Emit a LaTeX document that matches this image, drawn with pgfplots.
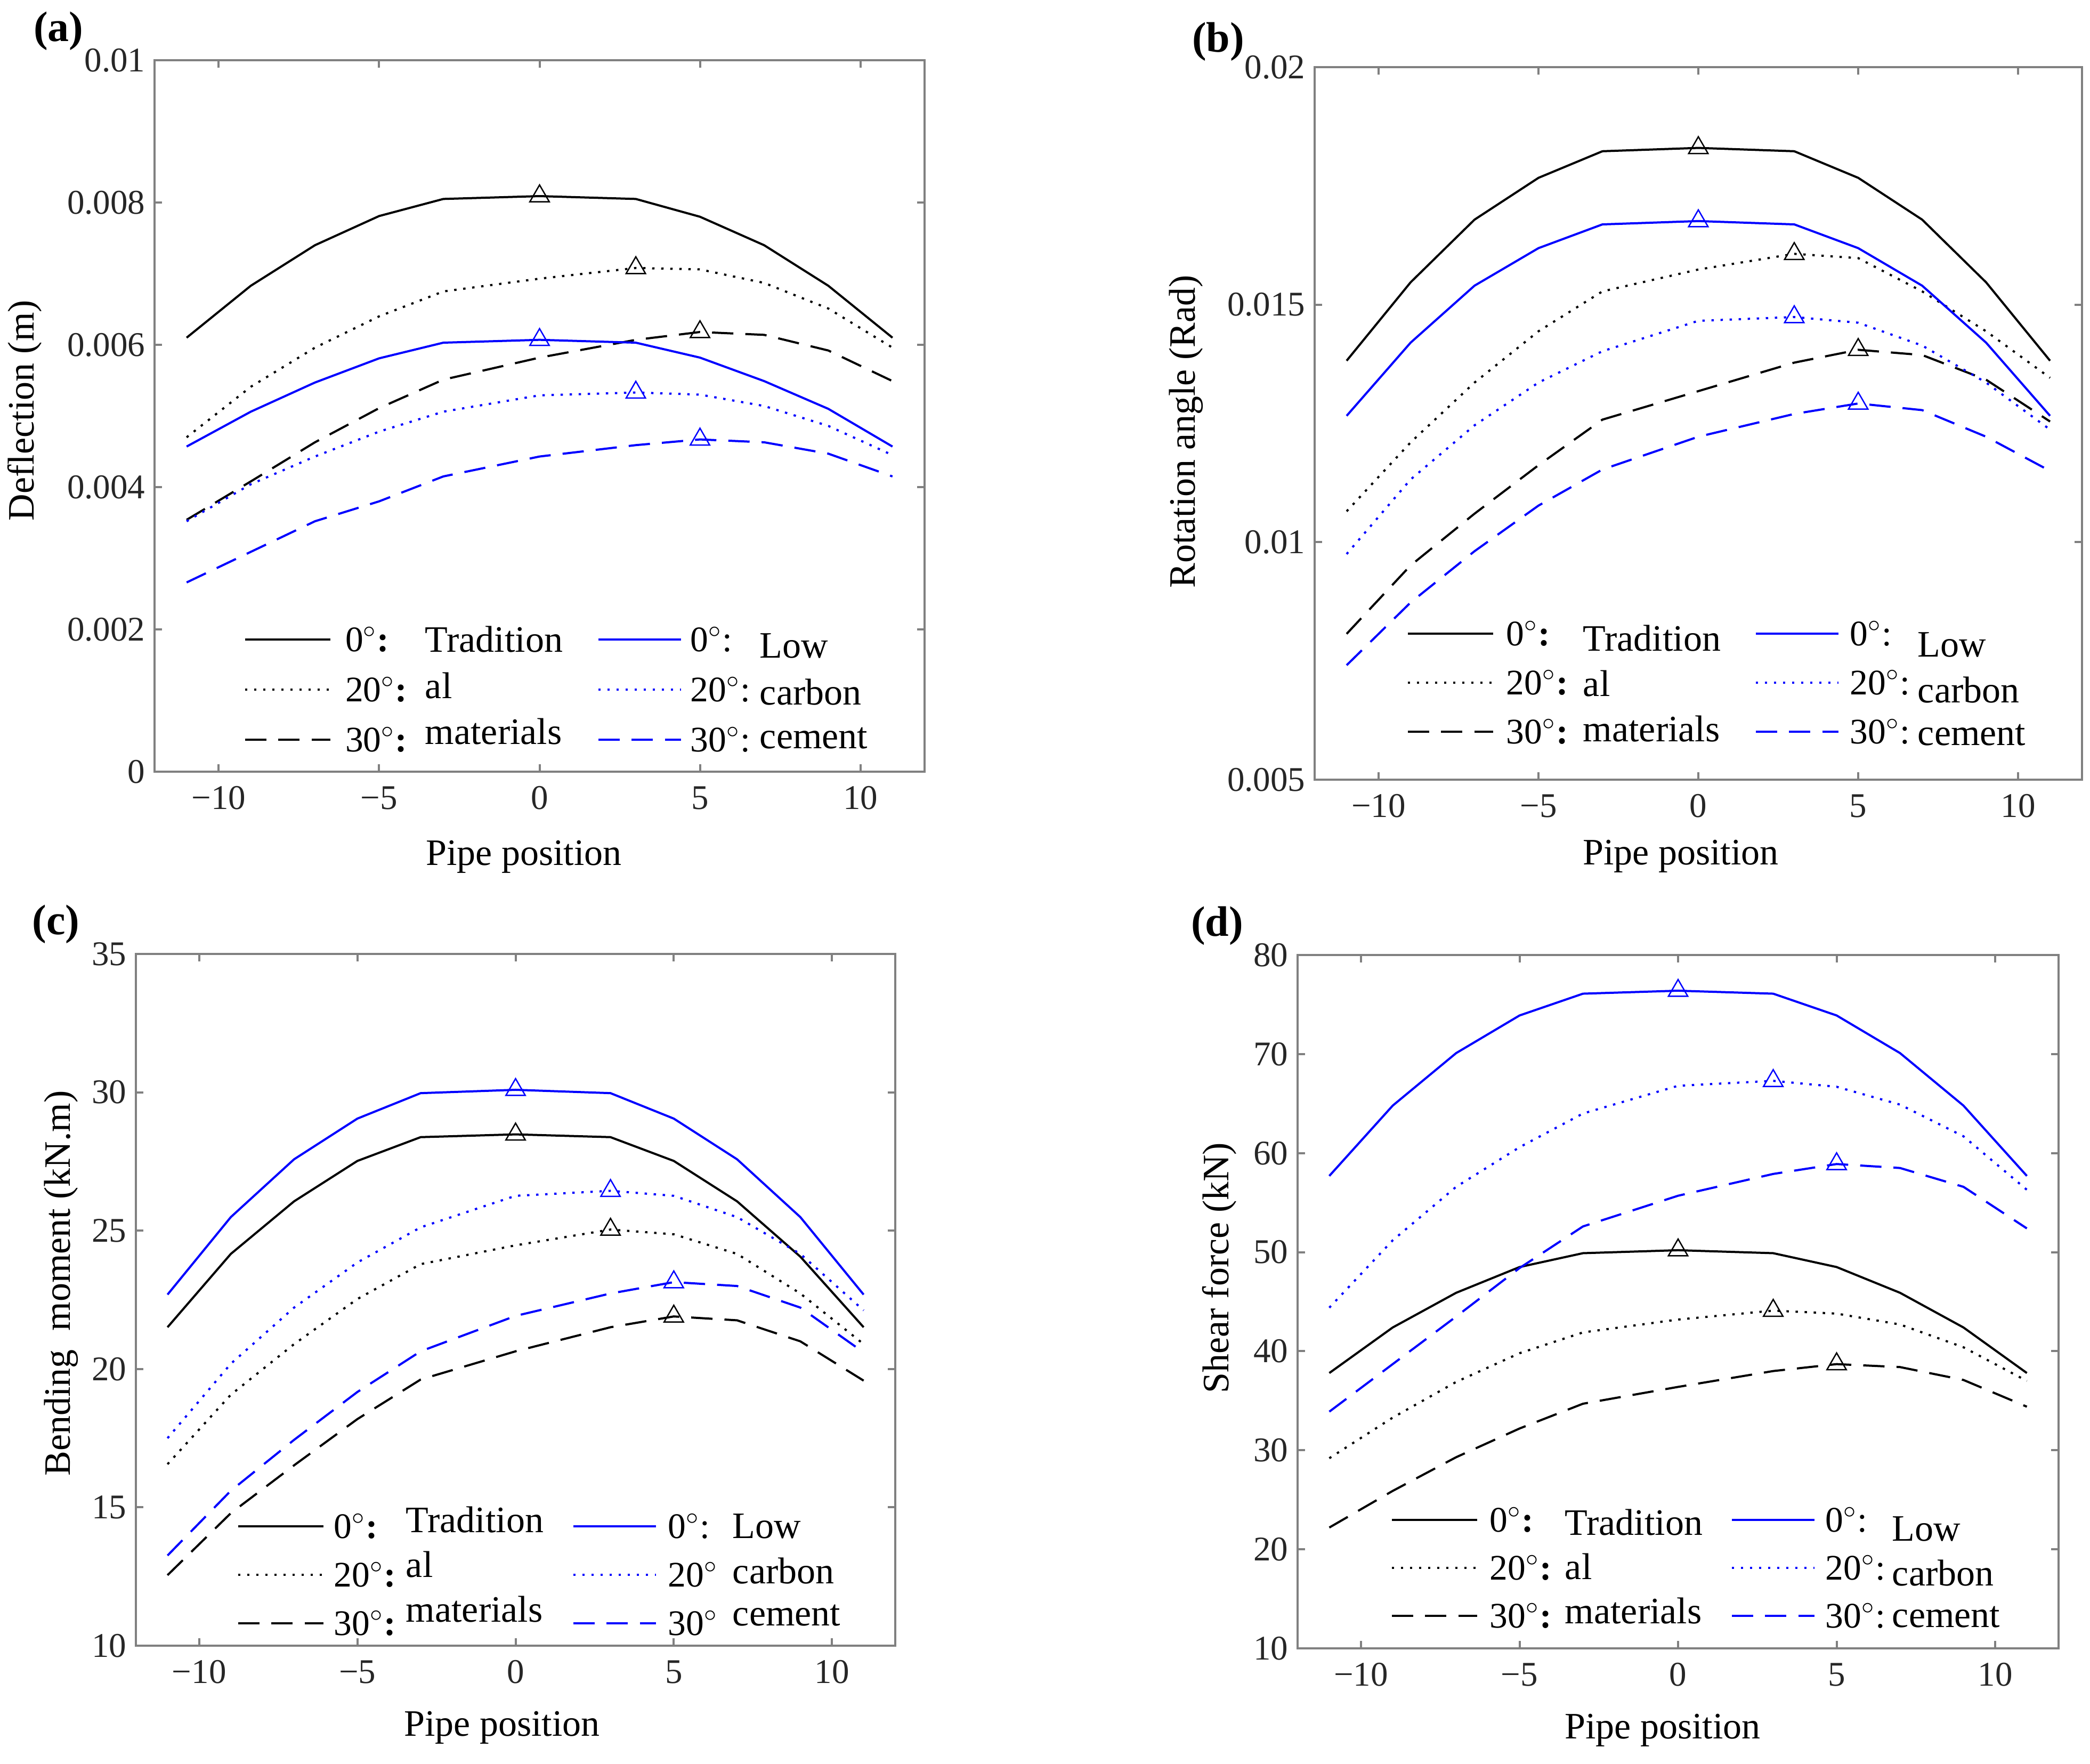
\documentclass[border=0pt]{standalone}
\usepackage{fontspec}
\setmainfont{Liberation Serif}
\usepackage{pgfplots}
\pgfplotsset{compat=1.18}
\usepackage{pgfplotstable}

\definecolor{mblue}{RGB}{0,0,255}

\pgfplotstableread{
x   t0      t20     t30     l0      l20     l30
-11 0.00610 0.00470 0.00354 0.00457 0.00352 0.00266
-9  0.00683 0.00541 0.00408 0.00506 0.00404 0.00309
-7  0.00740 0.00596 0.00463 0.00547 0.00443 0.00352
-5  0.00781 0.00640 0.00511 0.00581 0.00478 0.00380
-3  0.00805 0.00675 0.00551 0.00603 0.00506 0.00415
0   0.00809 0.00693 0.00582 0.00607 0.00529 0.00443
3   0.00805 0.00708 0.00607 0.00603 0.00533 0.00459
5   0.00780 0.00706 0.00618 0.00582 0.00530 0.00467
7   0.00740 0.00687 0.00614 0.00549 0.00514 0.00463
9   0.00683 0.00651 0.00592 0.00510 0.00486 0.00447
11  0.00610 0.00596 0.00549 0.00457 0.00445 0.00415
}\tabA

\pgfplotstableread{
x   t0      t20     t30     l0      l20     l30
-11 0.01382 0.01065 0.00807 0.01266 0.00975 0.00741
-9  0.01547 0.01210 0.00951 0.01420 0.01132 0.00873
-7  0.01679 0.01336 0.01060 0.01540 0.01246 0.00981
-5  0.01767 0.01444 0.01162 0.01619 0.01336 0.01077
-3  0.01823 0.01528 0.01258 0.01669 0.01402 0.01153
0   0.01830 0.01574 0.01318 0.01676 0.01466 0.01222
3   0.01823 0.01607 0.01378 0.01669 0.01474 0.01270
5   0.01767 0.01598 0.01405 0.01619 0.01462 0.01292
7   0.01679 0.01528 0.01394 0.01540 0.01414 0.01278
9   0.01547 0.01444 0.01342 0.01420 0.01336 0.01222
11  0.01382 0.01346 0.01254 0.01266 0.01237 0.01150
}\tabB

\pgfplotstableread{
x   t0    t20   t30   l0    l20   l30
-11 21.51 16.56 12.55 22.69 17.50 13.26
-9  24.16 19.07 14.79 25.49 20.19 15.60
-7  26.06 20.90 16.52 27.58 22.22 17.44
-5  27.52 22.53 18.19 29.05 23.85 19.17
-3  28.38 23.79 19.62 29.97 25.12 20.64
0   28.48 24.47 20.64 30.09 26.26 21.92
3   28.38 25.04 21.51 29.97 26.44 22.73
5   27.52 24.87 21.90 29.05 26.26 23.14
7   26.06 24.16 21.76 27.58 25.49 23.00
9   24.06 22.73 21.00 25.49 24.16 22.22
11  21.51 20.90 19.58 22.69 22.12 20.60
}\tabC

\pgfplotstableread{
x   t0   t20  t30  l0   l20  l30
-11 37.8 29.2 22.2 57.7 44.4 33.9
-9  42.4 33.3 25.9 64.8 51.2 38.7
-7  45.9 36.9 29.3 70.1 56.6 43.5
-5  48.5 39.8 32.2 73.9 60.6 48.4
-3  49.9 41.9 34.7 76.1 64.0 52.6
0   50.2 43.2 36.4 76.4 66.8 55.7
3   49.9 44.1 38.0 76.1 67.3 57.9
5   48.5 43.8 38.7 73.9 66.7 58.9
7   45.9 42.7 38.4 70.1 64.9 58.5
9   42.4 40.4 37.1 64.8 61.7 56.6
11  37.8 37.0 34.4 57.7 56.3 52.4
}\tabD

\tikzset{
  s0/.style={line width=0.8pt, solid},
  s20/.style={line width=0.8pt, dash pattern=on 0.9pt off 2.5pt},
  s30/.style={line width=0.8pt, dash pattern=on 8pt off 4.5pt},
}

\pgfplotsset{
  panel/.style={
    scale only axis,
    xmin=-12, xmax=12,
    xtick={-10,-5,0,5,10},
    xticklabels={−10,−5,0,5,10},
    scaled y ticks=false,
    scaled x ticks=false,
    axis line style={black!50, line width=0.8pt},
    every tick/.style={black!50, line width=0.8pt},
    major tick length=2.8pt,
    tick align=inside,
    tick pos=both,
    tick label style={font=\fontsize{13}{15}\selectfont, text=black!85},
    xticklabel style={yshift=-2pt},
  },
  tri/.style={only marks, mark=triangle, mark size=4.2pt, mark options={solid, line width=0.5pt}},
}

\newcommand\wordfont{\fontsize{14}{16}\selectfont}
\newcommand\labfont{\fontsize{13.5}{16}\selectfont}
\newcommand\bc{:}
% #1 x0, #2 y0, #3 dy, #4 lab dx, #5 word dx, #6 blue dx, #7 blue lab dx, #8 blue word dx, #9 word dy
\newcommand\leg[9]{%
  \draw[s0,black]  (#1,#2) -- ++(160,0);
  \draw[s20,black] (#1,{#2+#3}) -- ++(160,0);
  \draw[s30,black] (#1,{#2+2*#3}) -- ++(160,0);
  \node[anchor=west,inner sep=0pt,font=\labfont] at ({#1+#4},#2) {0$^\circ$\textbf{:}};
  \node[anchor=west,inner sep=0pt,font=\labfont] at ({#1+#4},{#2+#3}) {20$^\circ$\textbf{:}};
  \node[anchor=west,inner sep=0pt,font=\labfont] at ({#1+#4},{#2+2*#3}) {30$^\circ$\textbf{:}};
  \node[anchor=west,inner sep=0pt,font=\wordfont] at ({#1+#5},{#2+#9}) {Tradition};
  \node[anchor=west,inner sep=0pt,font=\wordfont] at ({#1+#5},{#2+#9+0.92*#3}) {al};
  \node[anchor=west,inner sep=0pt,font=\wordfont] at ({#1+#5},{#2+#9+1.84*#3}) {materials};
  \draw[s0,mblue]  ({#1+#6},#2) -- ++(155,0);
  \draw[s20,mblue] ({#1+#6},{#2+#3}) -- ++(155,0);
  \draw[s30,mblue] ({#1+#6},{#2+2*#3}) -- ++(155,0);
  \node[anchor=west,inner sep=0pt,font=\labfont] at ({#1+#7},#2) {0$^\circ$:};
  \node[anchor=west,inner sep=0pt,font=\labfont] at ({#1+#7},{#2+#3}) {20$^\circ$\bc};
  \node[anchor=west,inner sep=0pt,font=\labfont] at ({#1+#7},{#2+2*#3}) {30$^\circ$\bc};
  \node[anchor=west,inner sep=0pt,font=\wordfont] at ({#1+#8},{#2+#9+12}) {Low};
  \node[anchor=west,inner sep=0pt,font=\wordfont] at ({#1+#8},{#2+#9+12+0.92*#3}) {carbon};
  \node[anchor=west,inner sep=0pt,font=\wordfont] at ({#1+#8},{#2+#9+12+1.84*#3}) {cement};
}

\newcommand\series[1]{%
  \addplot[s0,black,no markers]  table[x=x,y=t0]  {#1};
  \addplot[s20,black,no markers] table[x=x,y=t20] {#1};
  \addplot[s30,black,no markers] table[x=x,y=t30] {#1};
  \addplot[s0,mblue,no markers]  table[x=x,y=l0]  {#1};
  \addplot[s20,mblue,no markers] table[x=x,y=l20] {#1};
  \addplot[s30,mblue,no markers] table[x=x,y=l30] {#1};
}

\begin{document}
\begin{tikzpicture}
\useasboundingbox (0pt,0pt) rectangle (784.4pt,-661.8pt);

% (a)
\begin{axis}[panel, at={(58pt,-289.6pt)}, anchor=south west,
  width=289pt, height=267pt,
  ymin=0, ymax=0.01,
  ytick={0,0.002,0.004,0.006,0.008,0.01},
  yticklabels={0,0.002,0.004,0.006,0.008,0.01}]
  \series{\tabA}
  \addplot[tri,black] coordinates {(0,0.00809) (3,0.00708) (5,0.00618)};
  \addplot[tri,mblue] coordinates {(0,0.00607) (3,0.00533) (5,0.00467)};
\end{axis}

% (b)
\begin{axis}[panel, at={(493.4pt,-292.6pt)}, anchor=south west,
  width=288pt, height=267.4pt,
  ymin=0.005, ymax=0.02,
  ytick={0.005,0.01,0.015,0.02},
  yticklabels={0.005,0.01,0.015,0.02}]
  \series{\tabB}
  \addplot[tri,black] coordinates {(0,0.0183) (3,0.01607) (5,0.01405)};
  \addplot[tri,mblue] coordinates {(0,0.01676) (3,0.01474) (5,0.01292)};
\end{axis}

% (c)
\begin{axis}[panel, at={(51pt,-617.6pt)}, anchor=south west,
  width=285pt, height=259.6pt,
  ymin=10, ymax=35,
  ytick={10,15,20,25,30,35},
  yticklabels={10,15,20,25,30,35}]
  \series{\tabC}
  \addplot[tri,black] coordinates {(0,28.48) (3,25.04) (5,21.9)};
  \addplot[tri,mblue] coordinates {(0,30.09) (3,26.44) (5,23.14)};
\end{axis}

% (d)
\begin{axis}[panel, at={(487pt,-618.6pt)}, anchor=south west,
  width=285.6pt, height=260.2pt,
  ymin=10, ymax=80,
  ytick={10,20,30,40,50,60,70,80},
  yticklabels={10,20,30,40,50,60,70,80}]
  \series{\tabD}
  \addplot[tri,black] coordinates {(0,50.2) (3,44.1) (5,38.7)};
  \addplot[tri,mblue] coordinates {(0,76.4) (3,67.3) (5,58.9)};
\end{axis}

\begin{scope}[x=0.2pt,y=-0.2pt]
  % panel letters
  \node[font=\bfseries\fontsize{16}{18}\selectfont] at (110,58) {(a)};
  \node[font=\bfseries\fontsize{16}{18}\selectfont] at (2286,78) {(b)};
  \node[font=\bfseries\fontsize{16}{18}\selectfont] at (105,1734) {(c)};
  \node[font=\bfseries\fontsize{16}{18}\selectfont] at (2284,1737) {(d)};
  % axis labels
  \node[font=\fontsize{14}{16}\selectfont] at (983,1608) {Pipe position};
  \node[font=\fontsize{14}{16}\selectfont] at (3154,1607) {Pipe position};
  \node[font=\fontsize{14}{16}\selectfont] at (942,3242) {Pipe position};
  \node[font=\fontsize{14}{16}\selectfont] at (3120,3247) {Pipe position};
  \node[font=\fontsize{14}{16}\selectfont, rotate=90] at (46,770) {Deflection (m)};
  \node[font=\fontsize{14}{16}\selectfont, rotate=90] at (2226,810) {Rotation angle (Rad)};
  \node[font=\fontsize{14}{16}\selectfont, rotate=90] at (115,2408) {Bending\ \ moment (kN.m)};
  \node[font=\fontsize{14}{16}\selectfont, rotate=90] at (2288,2379) {Shear force (kN)};
  % legends
  \leg{460}{1200}{94}{187}{337}{663}{835}{965}{0}
  \leg{2642}{1189}{92}{184}{328}{653}{829}{956}{9}
  \renewcommand\bc{}
  \leg{447}{2864}{91}{179}{314}{629}{806}{927}{-12}
  \renewcommand\bc{:}
  \leg{2612}{2852}{90}{183}{324}{638}{813}{938}{5}
\end{scope}
\end{tikzpicture}
\end{document}
